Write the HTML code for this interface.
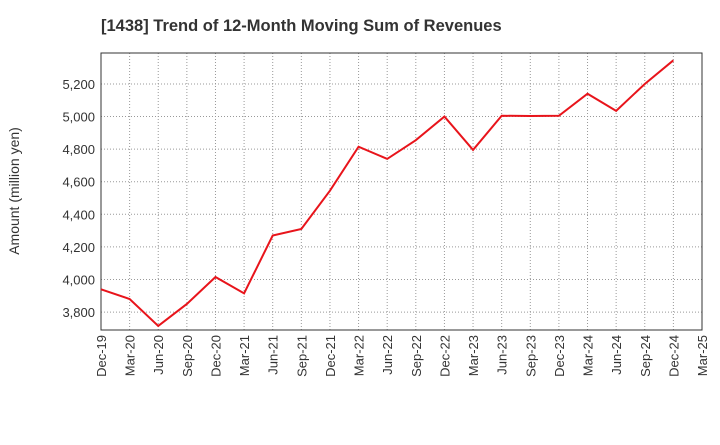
<!DOCTYPE html>
<html><head><meta charset="utf-8"><style>
body{margin:0;background:#fff;font-family:"Liberation Sans",sans-serif;}
</style></head><body>
<svg id="chart" width="720" height="440" xmlns="http://www.w3.org/2000/svg" font-family="Liberation Sans, sans-serif">
<text x="101" y="31" font-size="16.5" font-weight="bold" fill="#333">[1438]  Trend of 12-Month Moving Sum of Revenues</text>
<text transform="translate(19,191) rotate(-90)" text-anchor="middle" font-size="14" fill="#333">Amount (million yen)</text>
<g id="grid"></g><g id="axes"></g><g id="series"></g>
</svg>
<script>
const categories=["Dec-19","Mar-20","Jun-20","Sep-20","Dec-20","Mar-21","Jun-21","Sep-21","Dec-21","Mar-22","Jun-22","Sep-22","Dec-22","Mar-23","Jun-23","Sep-23","Dec-23","Mar-24","Jun-24","Sep-24","Dec-24","Mar-25"];
const revenues=[3940,3880,3715,3850,4015,3915,4270,4310,4545,4815,4740,4855,5000,4795,5005,5003,5005,5140,5035,5200,5345];
const yTicks=[3800,4000,4200,4400,4600,4800,5000,5200];
const L=101,R=702,T=53,B=330,yMin=3690,yMax=5390;
const ns="http://www.w3.org/2000/svg";
const xs=i=>L+(R-L)*i/(categories.length-1);
const ys=v=>B-(v-yMin)/(yMax-yMin)*(B-T);
function mk(t,a,p){const e=document.createElementNS(ns,t);for(const k in a)e.setAttribute(k,a[k]);p.appendChild(e);return e;}
const g=document.getElementById('grid'),ax=document.getElementById('axes'),s=document.getElementById('series');
categories.forEach((c,i)=>{
 const l=mk('line',{x1:xs(i),x2:xs(i),y1:T,y2:B,stroke:'#999','stroke-dasharray':'1,2','stroke-width':1},g);
 
 
 const t=mk('text',{transform:`translate(${xs(i)+5},${B+5}) rotate(-90)`,'text-anchor':'end','font-size':13,fill:'#333'},ax);
 t.textContent=c;
 
 
});
yTicks.forEach(v=>{
 const l=mk('line',{x1:L,x2:R,y1:ys(v),y2:ys(v),stroke:'#999','stroke-dasharray':'1,2','stroke-width':1},g);
 
 
 const t=mk('text',{x:L-6,y:ys(v)+5,'text-anchor':'end','font-size':13,fill:'#333'},ax);
 t.textContent=v.toLocaleString('en-US');
 
 
});
const fr=mk('rect',{x:L,y:T,width:R-L,height:B-T,fill:'none',stroke:'#333','stroke-width':1},ax);


const pl=mk('polyline',{points:revenues.map((v,i)=>xs(i)+','+ys(v)).join(' '),fill:'none',stroke:'#e8141b','stroke-width':2},s);


</script>
</body></html>
